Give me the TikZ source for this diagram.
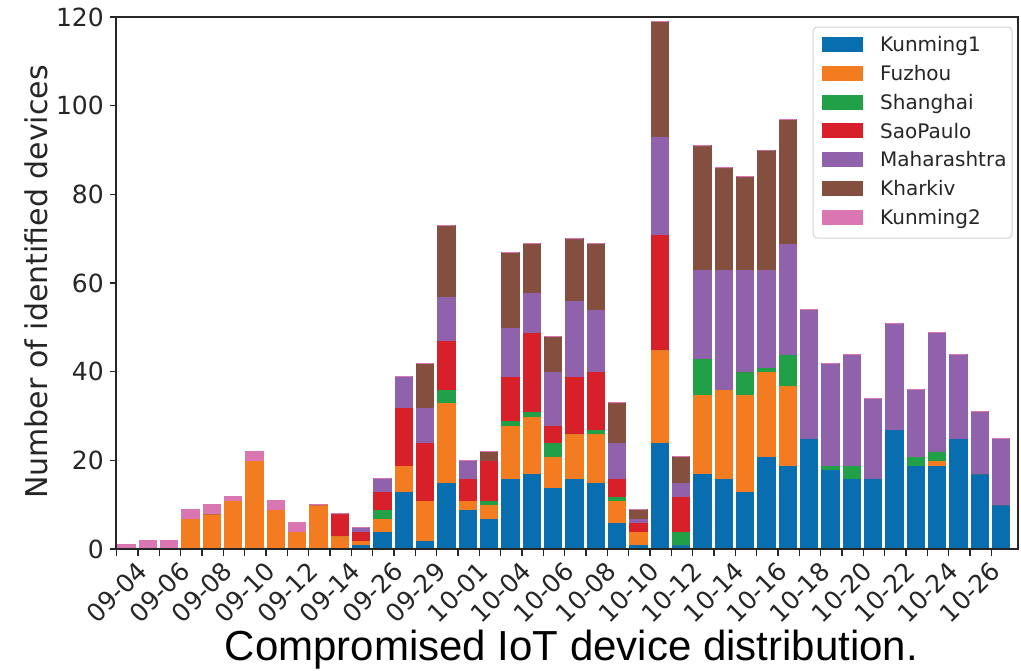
\documentclass[tikz,border=0pt]{standalone}
\usepackage{fontspec}
\newfontfamily\dv{DejaVu Sans}
\newfontfamily\lib{Liberation Sans}
\definecolor{cKa}{HTML}{086EB0}
\definecolor{cFz}{HTML}{F37B20}
\definecolor{cSh}{HTML}{22A048}
\definecolor{cSp}{HTML}{D7202A}
\definecolor{cMh}{HTML}{8F62AB}
\definecolor{cKh}{HTML}{854F3F}
\definecolor{cKb}{HTML}{DA76B2}
\definecolor{axc}{HTML}{262626}
\begin{document}
\begin{tikzpicture}[x=1pt,y=-1pt,
  seg/.style={fill=#1,draw=#1,line width=0.5pt},
  spine/.style={draw=axc,line width=1.3pt},
  tickln/.style={draw=axc,line width=1.2pt},
  ticklab/.style={font=\dv\fontsize{25}{30}\selectfont,text=axc,inner sep=0pt},
  leglab/.style={font=\dv\fontsize{20}{24}\selectfont,text=axc,inner sep=0pt,anchor=base west},
  legbox/.style={draw=black!18,line width=1pt,rounded corners=4pt,fill=white}]
\useasboundingbox (0,0) rectangle (1021,670);
\fill[white] (0,0) rectangle (1021,670);
% bars
\foreach \qa/\qb/\qc/\qd/\qe/\qf/\qg [count=\i from 0] in {
0/0/0/0/0/0/1, 0/0/0/0/0/0/2, 0/0/0/0/0/0/2, 0/7/0/0/0/0/2, 0/8/0/0/0/0/2,
0/11/0/0/0/0/1, 0/20/0/0/0/0/2, 0/9/0/0/0/0/2, 0/4/0/0/0/0/2, 0/10/0/0/0/0/0,
0/3/0/5/0/0/0, 1/1/0/2/1/0/0, 4/3/2/4/3/0/0, 13/6/0/13/7/0/0, 2/9/0/13/8/10/0,
15/18/3/11/10/16/0, 9/2/0/5/4/0/0, 7/3/1/9/0/2/0, 16/12/1/10/11/17/0, 17/13/1/18/9/11/0,
14/7/3/4/12/8/0, 16/10/0/13/17/14/0, 15/11/1/13/14/15/0, 6/5/1/4/8/9/0, 1/3/0/2/1/2/0,
24/21/0/26/22/26/0, 1/0/3/8/3/6/0, 17/18/8/0/20/28/0, 16/20/0/0/27/23/0, 13/22/5/0/23/21/0,
21/19/1/0/22/27/0, 19/18/7/0/25/28/0, 25/0/0/0/29/0/0, 18/0/1/0/23/0/0, 16/0/3/0/25/0/0,
16/0/0/0/18/0/0, 27/0/0/0/24/0/0, 19/0/2/0/15/0/0, 19/1/2/0/27/0/0, 25/0/0/0/19/0/0,
17/0/0/0/14/0/0, 10/0/0/0/15/0/0}{
  \pgfmathsetmacro\xl{117.7+21.333*\i}
  \pgfmathsetmacro\xr{\xl+17.3}
  \pgfmathsetmacro\cA{\qa}
  \pgfmathsetmacro\cB{\cA+\qb}
  \pgfmathsetmacro\cC{\cB+\qc}
  \pgfmathsetmacro\cD{\cC+\qd}
  \pgfmathsetmacro\cE{\cD+\qe}
  \pgfmathsetmacro\cF{\cE+\qf}
  \pgfmathsetmacro\cG{\cF+\qg}
  \path[seg=cKa] (\xl,549) rectangle (\xr,{549-4.4333*\cA});
  \path[seg=cFz] (\xl,{549-4.4333*\cA}) rectangle (\xr,{549-4.4333*\cB});
  \path[seg=cSh] (\xl,{549-4.4333*\cB}) rectangle (\xr,{549-4.4333*\cC});
  \path[seg=cSp] (\xl,{549-4.4333*\cC}) rectangle (\xr,{549-4.4333*\cD});
  \path[seg=cMh] (\xl,{549-4.4333*\cD}) rectangle (\xr,{549-4.4333*\cE});
  \path[seg=cKh] (\xl,{549-4.4333*\cE}) rectangle (\xr,{549-4.4333*\cF});
  \path[seg=cKb] (\xl,{549-4.4333*\cF}) rectangle (\xr,{549-4.4333*\cG});
}
% x ticks
\foreach \i in {0,...,41}{
  \draw[tickln] ({116.7+21.333*\i},549) -- ({116.7+21.333*\i},555.5);
}
\foreach \lab [count=\k from 0] in {09-04,09-06,09-08,09-10,09-12,09-14,09-26,09-29,10-01,10-04,10-06,10-08,10-10,10-12,10-14,10-16,10-18,10-20,10-22,10-24,10-26}{
  \node[ticklab,rotate=45] (xl\k) at ({116.7+42.667*\k},592) {\lab};
}
% y ticks
\foreach \v [count=\k from 0] in {0,20,40,60,80,100,120}{
  \draw[tickln] (110,{549-4.4333*\v}) -- (116,{549-4.4333*\v});
  \node[ticklab,anchor=base east] (yl\k) at (104,{549-4.4333*\v+9.1}) {\v};
}
% spines
\draw[spine] (116,17) rectangle (1018,549);
% legend
\path[legbox] (813,27) rectangle (1012,238);
\foreach \col/\nm [count=\j from 0] in {cKa/Kunming1,cFz/Fuzhou,cSh/Shanghai,cSp/SaoPaulo,cMh/Maharashtra,cKh/Kharkiv,cKb/Kunming2}{
  \path[seg=\col] (822,{44+28.9*\j-7}) rectangle (862,{44+28.9*\j+7});
  \node[leglab] (lg\j) at (880,{44+28.9*\j+7.3}) {\nm};
}
% axis label and caption
\node[font=\dv\fontsize{30}{36}\selectfont,text=axc,rotate=90,anchor=base,inner sep=0pt] (ylab) at (47,282) {Number of identified devices};
\node[font=\lib\fontsize{42}{50}\selectfont,text=black,anchor=base,inner sep=0pt] (cap) at (571.5,660) {Compromised IoT device distribution.};
\end{tikzpicture}
\end{document}
